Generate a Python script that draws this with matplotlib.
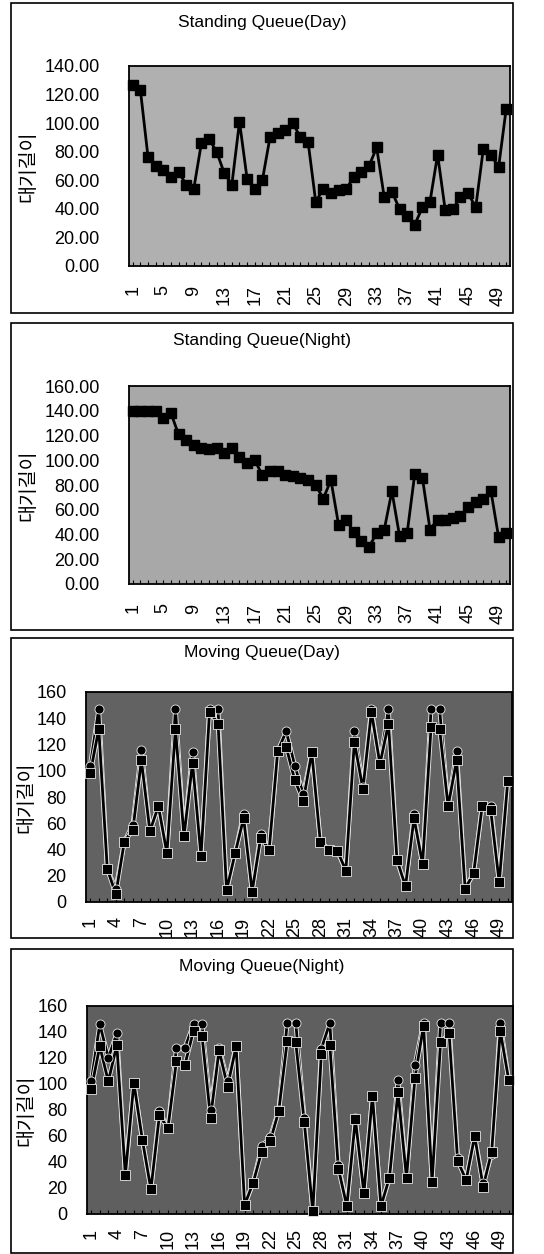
import numpy as np
import matplotlib
matplotlib.use("Agg")
import matplotlib.pyplot as plt
import matplotlib.patches as mpatches
import matplotlib.patheffects as pe

W, H = 544, 1254
KR = ["Noto Sans CJK KR", "DejaVu Sans"]
LAT = ["Liberation Sans", "DejaVu Sans"]

x_cat = np.arange(1, 51)

standing_day = [127, 123, 76, 70, 67, 62, 66, 57, 54, 86,
                89, 80, 65, 57, 101, 61, 54, 60, 90, 93,
                95, 100, 90, 87, 45, 54, 51, 53, 54, 62,
                66, 70, 83, 48, 52, 40, 35, 29, 41, 45,
                78, 39, 40, 48, 51, 41, 82, 78, 69, 110]

standing_night = [140, 140, 140, 140, 134, 138, 121, 116, 112, 110,
                  109, 110, 106, 110, 103, 98, 100, 88, 91, 91,
                  88, 87, 86, 84, 80, 69, 84, 48, 52, 42,
                  35, 30, 41, 44, 75, 39, 41, 89, 86, 44,
                  52, 52, 53, 55, 62, 66, 69, 75, 38, 41]

moving_day_sq = [98, 132, 25, 6, 46, 55, 108, 54, 73, 37,
                 132, 50, 106, 35, 145, 136, 9, 37, 64, 8,
                 49, 40, 115, 118, 93, 77, 114, 46, 40, 39,
                 24, 122, 86, 145, 105, 136, 32, 12, 64, 29,
                 133, 132, 73, 108, 10, 22, 73, 70, 15, 92]
moving_day_ci = [104, 147, 25, 10, 46, 59, 116, 54, 73, 37,
                 147, 50, 114, 35, 147, 147, 9, 37, 67, 8,
                 52, 40, 115, 130, 104, 82, 114, 46, 40, 39,
                 24, 130, 88, 147, 105, 147, 32, 12, 67, 29,
                 147, 147, 73, 115, 10, 22, 73, 73, 15, 92]

moving_night_sq = [96, 129, 102, 130, 30, 101, 57, 19, 76, 66,
                   118, 115, 141, 137, 74, 126, 98, 129, 7, 24,
                   48, 56, 79, 133, 132, 71, 2, 123, 130, 35,
                   6, 73, 16, 91, 6, 28, 94, 28, 105, 145,
                   25, 132, 139, 41, 26, 60, 21, 48, 141, 103]
moving_night_ci = [102, 146, 120, 139, 30, 101, 57, 19, 79, 66,
                   128, 128, 146, 146, 80, 128, 102, 129, 7, 24,
                   52, 59, 80, 147, 147, 74, 2, 127, 147, 38,
                   6, 74, 16, 91, 6, 28, 103, 28, 115, 147,
                   25, 147, 147, 43, 26, 60, 24, 46, 147, 103]

titles = ["Standing Queue(Day)", "Standing Queue(Night)",
          "Moving Queue(Day)", "Moving Queue(Night)"]
ylabel = "대기길이"


def rect(x0, y0, x1, y1):
    # pixel box (top-left origin) -> figure fraction
    return [x0 / W, 1 - y1 / H, (x1 - x0) / W, (y1 - y0) / H]


fig = plt.figure(figsize=(W / 100, H / 100), dpi=100)
fig.patch.set_facecolor("white")

# panel frames, plot boxes, title y, ylabel x
panels = [
    dict(frame=(11, 3, 513, 313), box=(129, 66, 510, 266), ty=22, lx=28,
         ymax=140, ystep=20, fmt="{:.2f}", every=4, bg="#b0b0b0", fs=13),
    dict(frame=(11, 323, 513, 630), box=(129, 386, 510, 584), ty=341, lx=28,
         ymax=160, ystep=20, fmt="{:.2f}", every=4, bg="#a8a8a8", fs=13),
    dict(frame=(11, 638, 513, 938), box=(86, 692, 512, 902), ty=653, lx=26,
         ymax=160, ystep=20, fmt="{:.0f}", every=3, bg="#626262", fs=13),
    dict(frame=(11, 949, 513, 1253), box=(87, 1006, 513, 1214), ty=967, lx=26,
         ymax=160, ystep=20, fmt="{:.0f}", every=3, bg="#5f5f5f", fs=13),
]
series = [
    [standing_day],
    [standing_night],
    [moving_day_ci, moving_day_sq],
    [moving_night_ci, moving_night_sq],
]

for i, p in enumerate(panels):
    fx0, fy0, fx1, fy1 = p["frame"]
    fig.patches.append(mpatches.Rectangle(
        (fx0 / W, 1 - fy1 / H), (fx1 - fx0) / W, (fy1 - fy0) / H,
        transform=fig.transFigure, fill=False, edgecolor="black", linewidth=1.2))

    bx0, by0, bx1, by1 = p["box"]
    ax = fig.add_axes(rect(bx0, by0, bx1, by1))
    ax.set_facecolor(p["bg"])
    for s in ax.spines.values():
        s.set_linewidth(1.3)
        s.set_color("black")

    if i < 2:
        ax.plot(x_cat, series[i][0], color="black", linewidth=2,
                marker="s", markersize=6.5, markerfacecolor="black",
                markeredgecolor="black", clip_on=False, zorder=3)
    else:
        halo = [pe.Stroke(linewidth=3.3, foreground="#e8e8e8"), pe.Normal()]
        # lines with light outline
        for k, vals in enumerate(series[i]):
            ax.plot(x_cat, vals, color="black", linewidth=2,
                    path_effects=halo, zorder=3 + k)
        # markers
        ax.plot(x_cat, series[i][0], linestyle="none",
                marker="o", markersize=6.5, markerfacecolor="black",
                markeredgecolor="#e8e8e8", markeredgewidth=0.6,
                clip_on=False, zorder=5)
        ax.plot(x_cat, series[i][1], linestyle="none",
                marker="s", markersize=7.5, markerfacecolor="black",
                markeredgecolor="#e8e8e8", markeredgewidth=0.6,
                clip_on=False, zorder=6)

    ax.set_xlim(0.5, 50.5)
    ax.set_ylim(0, p["ymax"])
    yt = np.arange(0, p["ymax"] + 1, p["ystep"])
    ax.set_yticks(yt)
    ax.set_yticklabels([p["fmt"].format(v) for v in yt], family=LAT,
                       fontsize=p["fs"])
    ax.tick_params(axis="y", length=0, pad=21 if i < 2 else 14)

    ax.set_xticks(x_cat, minor=True)
    lab = x_cat[::p["every"]]
    ax.set_xticks(lab)
    ax.set_xticklabels([str(v) for v in lab], rotation=90, family=LAT,
                       fontsize=p["fs"], va="top", ha="center")
    ax.tick_params(axis="x", which="both", direction="in", length=3,
                   width=0.8, pad=14 if i < 2 else 11)

    cx = (fx0 + fx1) / 2 / W
    fig.text(cx, 1 - p["ty"] / H, titles[i], ha="center", va="center",
             family=LAT, fontsize=12.5)
    fig.text(p["lx"] / W, 1 - (by0 + by1) / 2 / H, ylabel, rotation=90,
             ha="center", va="center", family=KR, fontsize=14)

fig.savefig("out.png", dpi=100, facecolor="white")
